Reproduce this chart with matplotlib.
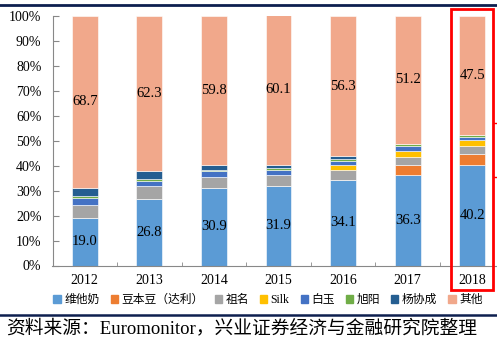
import matplotlib.pyplot as plt
from matplotlib.lines import Line2D
from matplotlib.patches import Rectangle
import numpy as np

plt.rcParams['font.family'] = ['Liberation Serif', 'Noto Sans CJK SC']

years = ['2012', '2013', '2014', '2015', '2016', '2017', '2018']
brands = ['维他奶', '豆本豆（达利）', '祖名', 'Silk', '白玉', '旭阳', '杨协成', '其他']
vitasoy = [19.0, 26.8, 30.9, 31.9, 34.1, 36.3, 40.2]
dali = [0.0, 0.0, 0.0, 0.1, 0.0, 3.8, 4.6]
zuming = [5.3, 5.0, 4.5, 4.1, 4.0, 3.5, 3.2]
silk = [0.0, 0.0, 0.0, 0.3, 2.2, 2.4, 2.4]
baiyu = [2.8, 2.1, 2.4, 2.0, 1.7, 1.9, 1.3]
xuyang = [0.6, 0.6, 0.5, 0.5, 0.5, 0.6, 0.8]
yangxiecheng = [3.5, 3.2, 1.9, 1.4, 1.2, 0.3, 0.0]
others = [68.7, 62.3, 59.8, 60.1, 56.3, 51.2, 47.5]

series = [vitasoy, dali, zuming, silk, baiyu, xuyang, yangxiecheng, others]
colors = ['#5B9BD5', '#ED7D31', '#A5A5A5', '#FFC000', '#4472C4', '#70AD47', '#255E91', '#F1A88B']
NAVY = '#0D1F4F'

fig = plt.figure(figsize=(4.97, 3.51), dpi=100)
ax = fig.add_axes([52.5 / 497, 85.5 / 351, 452 / 497, 249.5 / 351])

x = np.arange(len(years))
bottom = np.zeros(len(years))
for i, vals in enumerate(series):
    vals = np.array(vals)
    ax.bar(x, vals, 0.4, bottom=bottom, color=colors[i], edgecolor='white', linewidth=0.4)
    if i == 0 or i == len(series) - 1:
        for xi, b, v in zip(x, bottom, vals):
            ax.text(xi, b + v / 2, '%.1f' % v, ha='center', va='center', fontsize=10.5)
    bottom += vals

ax.set_xlim(-0.5, 6.5)
ax.set_ylim(0, 100)
ax.set_yticks(np.arange(0, 101, 10))
ax.set_yticklabels(['%d%%' % v for v in range(0, 101, 10)], fontsize=10)
ax.set_xticks(x)
ax.set_xticklabels(years, fontsize=10)
ax.set_xticks(np.arange(0.5, 6.5, 1), minor=True)
ax.tick_params(axis='x', which='major', length=0, pad=6)
ax.tick_params(axis='x', which='minor', direction='in', length=3, color='#888888')
ax.tick_params(axis='y', direction='in', length=4, color='#888888', pad=8)
for name in ['top', 'right']:
    ax.spines[name].set_visible(False)
for name in ['left', 'bottom']:
    ax.spines[name].set_color('#888888')
    ax.spines[name].set_linewidth(0.8)

handles = [Rectangle((0, 0), 1, 1, color=c) for c in colors]
fig.legend(handles, brands, loc='center', bbox_to_anchor=(268 / 497, 1 - 300 / 351),
           ncol=8, frameon=False, fontsize=8.5, handlelength=0.6, handleheight=0.6,
           handletextpad=0.3, columnspacing=0.95)

# red highlight box round 2018
fig.patches.append(Rectangle((451 / 497, 1 - 290 / 351), 42 / 497, 281 / 351,
                             transform=fig.transFigure, fill=False, edgecolor='red', linewidth=2))
fig.add_artist(Line2D([494 / 497, 1], [1 - 123 / 351] * 2, color='red', linewidth=1))
fig.add_artist(Line2D([494 / 497, 1], [1 - 177 / 351] * 2, color='red', linewidth=1))

# navy rules of the report page
fig.add_artist(Line2D([0, 1], [1 - 5 / 351] * 2, color=NAVY, linewidth=2))
fig.add_artist(Line2D([0, 1], [1 - 315 / 351] * 2, color=NAVY, linewidth=1.8))

fig.text(6 / 497, 1 - 328 / 351, '资料来源：Euromonitor，兴业证券经济与金融研究院整理',
         fontsize=13.5, va='center', ha='left')

fig.savefig('out.png', dpi=100)
